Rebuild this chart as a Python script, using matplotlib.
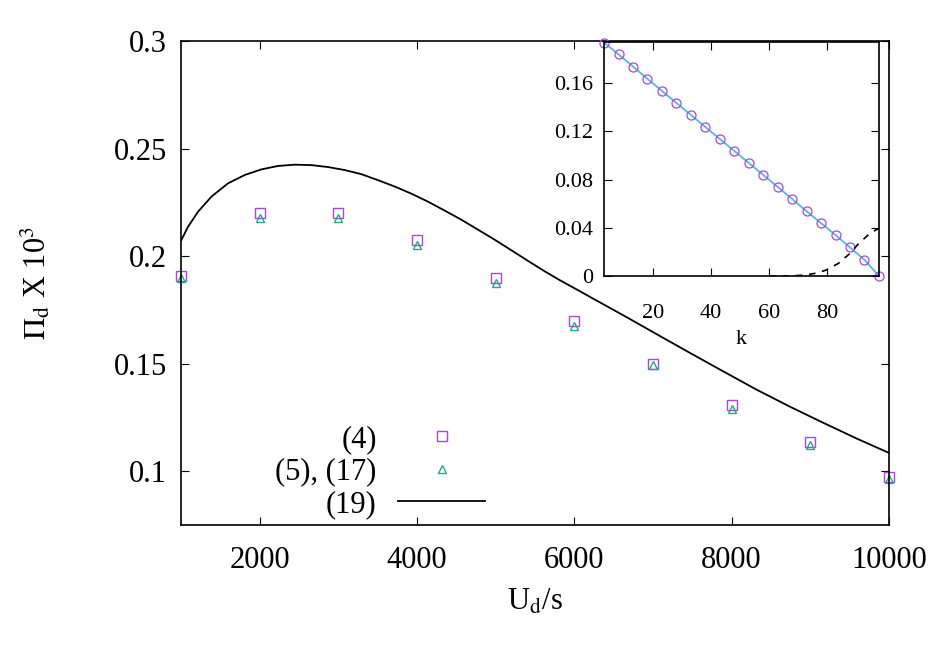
import numpy as np
import matplotlib
matplotlib.use("Agg")
import matplotlib.pyplot as plt
from matplotlib.ticker import FormatStrFormatter

plt.rcParams['font.family'] = ['Liberation Serif', 'DejaVu Serif']
plt.rcParams['mathtext.fontset'] = 'stix'

# main panel data
ud = [1000, 2000, 3000, 4000, 5000, 6000, 7000, 8000, 9000, 10000]
pi_eq4 = [0.1907, 0.2200, 0.2200, 0.2074, 0.1898, 0.1698, 0.1498, 0.1307, 0.1135, 0.0972]
pi_eq5 = [0.1900, 0.2175, 0.2175, 0.2050, 0.1875, 0.1675, 0.1495, 0.1290, 0.1120, 0.0965]

# curve (19)
ud_19 = [1004, 1089, 1216, 1386, 1597, 1810, 2021, 2233, 2445, 2656, 2869, 3081,
         3292, 3504, 3720, 3930, 4140, 4350, 4560, 4770, 4980, 5200, 5410, 5620,
         5830, 6040, 6250, 6622, 7047, 7470, 7894, 8318, 8741, 9165, 9589, 10000]
pi_19 = [0.2074, 0.2136, 0.2206, 0.2276, 0.2338, 0.2377, 0.2403, 0.2419, 0.2425,
         0.2423, 0.2414, 0.2400, 0.2381, 0.2353, 0.2323, 0.2290, 0.2253, 0.2212,
         0.2170, 0.2124, 0.2078, 0.2027, 0.1978, 0.1930, 0.1885, 0.1843, 0.1800,
         0.1725, 0.1637, 0.1550, 0.1464, 0.1379, 0.1300, 0.1225, 0.1152, 0.1085]

# inset data
k = [3, 8, 13, 18, 23, 28, 33, 38, 43, 48, 53, 58, 63, 68, 73, 78, 83, 88, 93, 98]
k_vals = [0.1936, 0.1837, 0.1737, 0.1635, 0.1535, 0.1435, 0.1336, 0.1236, 0.1137,
          0.1037, 0.0938, 0.0838, 0.0739, 0.0639, 0.0537, 0.0438, 0.0340, 0.0237,
          0.0134, 0.0]
k_dash = [60, 65, 68, 71, 74, 77, 80, 84, 88, 91, 95, 98]
v_dash = [0.0, 0.0, 0.0002, 0.0006, 0.0014, 0.0027, 0.0052, 0.0105, 0.0188,
          0.0270, 0.0356, 0.0396]

purple = '#a846e6'
green = '#22aa82'
blue = '#56b4e9'

fig = plt.figure(figsize=(9.49, 6.64), dpi=100)
ax = fig.add_axes([0.1907, 0.2093, 0.7461, 0.7290])

ax.plot(ud, pi_eq4, ls='none', marker='s', ms=7, mfc='none', mec=purple, mew=1.0,
        label='(4)', clip_on=False)
ax.plot(ud, pi_eq5, ls='none', marker='^', ms=6, mfc='none', mec=green, mew=1.0,
        label='(5), (17)', clip_on=False)
ax.plot(ud_19, pi_19, color='black', lw=1.3, label='(19)')

ax.set_xlim(1000, 10000)
ax.set_ylim(0.075, 0.3)
ax.set_xticks([2000, 4000, 6000, 8000, 10000])
ax.set_yticks([0.1, 0.15, 0.2, 0.25, 0.3])
ax.yaxis.set_major_formatter(FormatStrFormatter('%g'))
ax.tick_params(axis='both', direction='in', top=True, right=True, length=6,
               width=0.8, labelsize=22)
ax.tick_params(axis='x', pad=15)
ax.tick_params(axis='y', pad=10)
for s in ax.spines.values():
    s.set_linewidth(1.2)
ax.set_xlabel(r'U$_\mathrm{d}$/s', fontsize=22, labelpad=9)
ax.set_ylabel(r'$\Pi_\mathrm{d}$ X 10$^3$', fontsize=22, labelpad=44)

leg = ax.legend(loc='lower right', bbox_to_anchor=(0.434, 0.006), frameon=False,
                markerfirst=False, fontsize=22, handlelength=2.85,
                handletextpad=0.7, labelspacing=0.12, borderaxespad=0.0,
                borderpad=0.1)

# inset
axi = fig.add_axes([0.6365, 0.5843, 0.2897, 0.3524])
axi.plot(k, k_vals, color=blue, lw=1.3)
axi.plot(k, k_vals, ls='none', marker='o', ms=6.5, mfc='none', mec=purple, mew=0.9,
         clip_on=False)
axi.plot(k_dash, v_dash, color='black', lw=1.2, ls=(0, (4, 4)))
axi.set_xlim(3, 98)
axi.set_ylim(0, 0.194)
axi.set_xticks([20, 40, 60, 80])
axi.set_yticks([0, 0.04, 0.08, 0.12, 0.16])
axi.yaxis.set_major_formatter(FormatStrFormatter('%g'))
axi.tick_params(axis='both', direction='in', top=True, right=True, length=6,
                width=0.8, labelsize=16)
axi.tick_params(axis='x', pad=20)
axi.tick_params(axis='y', pad=8)
for s in axi.spines.values():
    s.set_linewidth(1.2)
axi.set_xlabel('k', fontsize=16, labelpad=5)

fig.savefig('out.png', dpi=100)
